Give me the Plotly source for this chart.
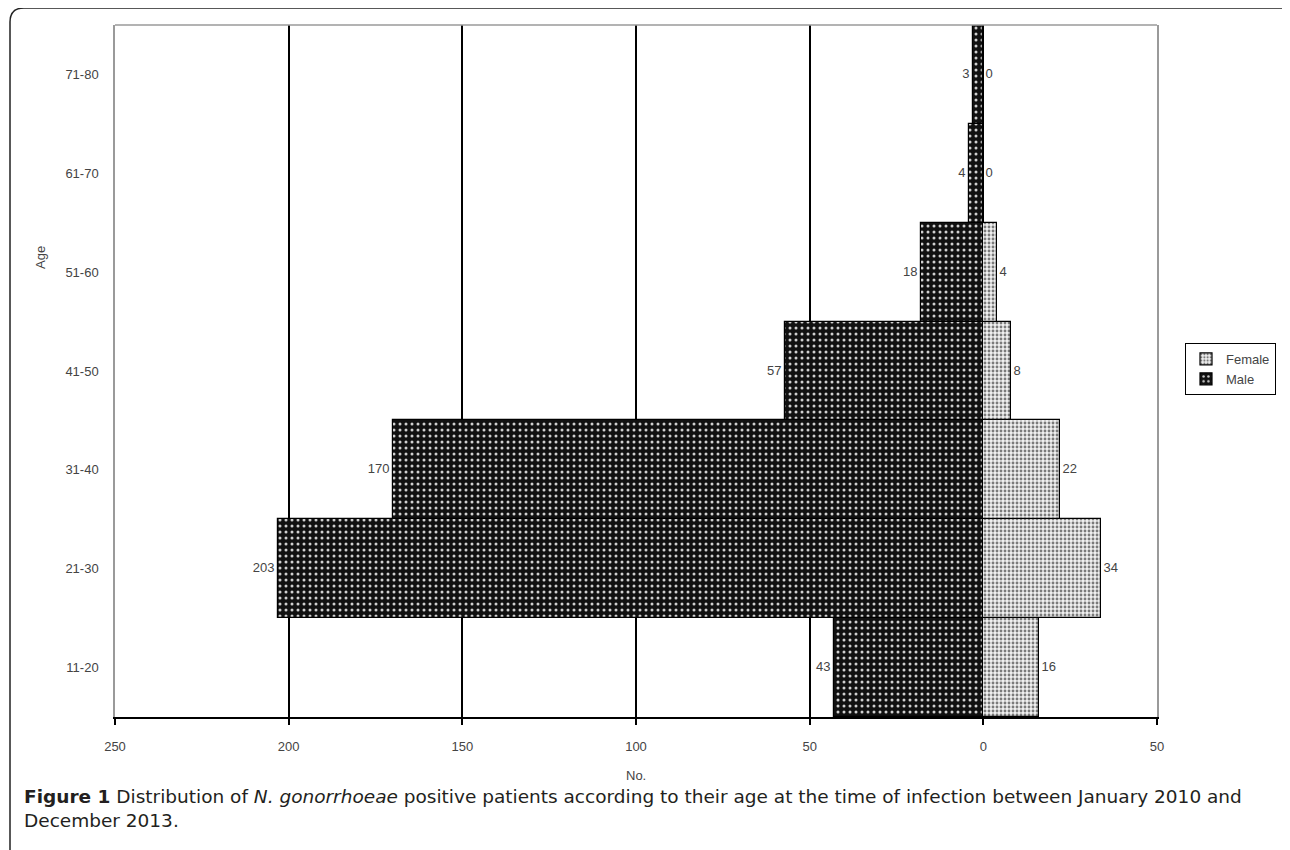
import plotly.graph_objects as go

age_groups = ["11-20", "21-30", "31-40", "41-50", "51-60", "61-70", "71-80"]
male = [43, 203, 170, 57, 18, 4, 3]
female = [16, 34, 22, 8, 4, 0, 0]
x_tick_vals = [-250, -200, -150, -100, -50, 0, 50]
x_tick_text = ["250", "200", "150", "100", "50", "0", "50"]

# page body has an 8px margin: lay the figure out in page pixels minus that offset
OFF = 8
W, H = 1290 - OFF, 850 - OFF


def px(x):
    return (x - OFF) / W


def py(y):
    return 1 - (y - OFF) / H


PL, PR, PT, PB = 115, 1157, 25, 717
lab_font = dict(family="Liberation Sans, Arial", size=13, color="#444444")

fig = go.Figure()
fig.add_trace(go.Bar(
    y=age_groups, x=female, name="Female", orientation="h",
    text=[str(v) for v in female], textposition="outside",
    textfont=lab_font, cliponaxis=False,
    marker=dict(color="white", line=dict(color="black", width=1.2),
                pattern=dict(shape=".", bgcolor="#f0f0f0", fgcolor="#7a7a7a",
                             size=4, solidity=0.4, fillmode="replace")),
))
fig.add_trace(go.Bar(
    y=age_groups, x=[-v for v in male], name="Male", orientation="h",
    text=[str(v) for v in male], textposition="outside",
    textfont=lab_font, cliponaxis=False,
    marker=dict(color="black", line=dict(color="black", width=1.2),
                pattern=dict(shape=".", bgcolor="#111111", fgcolor="#d0d0d0",
                             size=6, solidity=0.2, fillmode="replace")),
))

fig.update_layout(
    width=W, height=H,
    margin=dict(l=0, r=0, t=0, b=0, autoexpand=False),
    paper_bgcolor="white", plot_bgcolor="white",
    barmode="overlay", bargap=0,
    showlegend=True,
    legend=dict(x=px(1185), y=py(343), xanchor="left", yanchor="top",
                bordercolor="black", borderwidth=1, bgcolor="white",
                font=dict(family="Liberation Sans, Arial", size=13, color="#444444"),
                itemwidth=30, tracegroupgap=0, traceorder="normal"),
    xaxis=dict(domain=[px(PL), px(PR)], range=[-250, 50], automargin=False,
               tickvals=x_tick_vals, ticktext=x_tick_text,
               showgrid=True, gridcolor="black", gridwidth=1.6,
               zeroline=False, showline=True, linecolor="black", linewidth=2,
               ticks="outside", ticklen=6, tickcolor="black", tickwidth=1.5,
               tickfont=lab_font, ticklabelstandoff=10, fixedrange=True),
    yaxis=dict(domain=[py(PB), py(PT)], showgrid=False, zeroline=False, automargin=False,
               showline=True, linecolor="#9a9a9a", linewidth=1.5, mirror=True,
               ticks="", tickfont=lab_font, ticklabelstandoff=12, fixedrange=True),
    shapes=[
        dict(type="line", xref="paper", yref="paper",
             x0=px(PL), x1=px(PR), y0=py(PT), y1=py(PT),
             line=dict(color="#9a9a9a", width=1.5)),
        dict(type="path", xref="paper", yref="paper",
             path=(f"M {px(10)},{py(852)} L {px(10)},{py(22)} "
                   f"Q {px(10)},{py(8)} {px(24)},{py(8)} "
                   f"L {px(1282)},{py(8)} Q {px(1288)},{py(8)} {px(1290)},{py(12)}"),
             line=dict(color="#222222", width=1.5)),
    ],
    annotations=[
        dict(text="No.", xref="paper", yref="paper", x=px(636), y=py(775),
             showarrow=False, font=lab_font, xanchor="center", yanchor="middle"),
        dict(text="Age", xref="paper", yref="paper", x=px(40), y=py(258),
             showarrow=False, font=lab_font, textangle=-90,
             xanchor="center", yanchor="middle"),
        dict(text=("<b>Figure 1</b> Distribution of <i>N. gonorrhoeae</i> positive patients "
                   "according to their age at the time of infection between January 2010 and"
                   "<br>December 2013."),
             xref="paper", yref="paper", x=px(22), y=py(808),
             showarrow=False, align="left", xanchor="left", yanchor="middle",
             font=dict(family="DejaVu Sans", size=18.5, color="#231f20")),
    ],
)

fig.write_html("out.html")
